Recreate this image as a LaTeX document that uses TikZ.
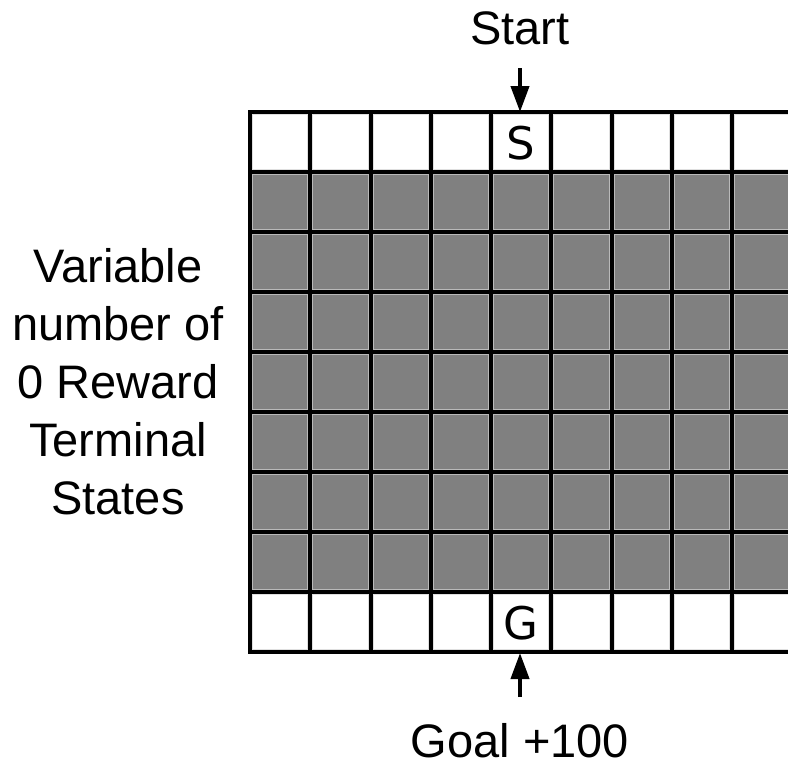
\documentclass[tikz,border=0pt]{standalone}
\usepackage{fontspec}
\setmainfont{Liberation Sans}
\newfontfamily\cellfont{DejaVu Sans}
\usetikzlibrary{arrows.meta}
\tikzset{
  label text/.style={
    font=\fontsize{47}{58}\selectfont,
    inner sep=0pt
  },
  cell letter/.style={
    font=\cellfont\fontsize{45}{45}\selectfont,
    inner sep=0pt
  },
  open cell/.style={
    fill=white,
    draw=gray!25,
    line width=1pt
  },
  blocked cell/.style={
    fill=gray,
    draw=gray!55,
    line width=1pt
  },
  grid line/.style={
    black,
    line width=4pt
  },
  pointer/.style={
    -{Triangle[length=26pt, width=18pt]},
    line width=4pt
  }
}

\begin{document}
\begin{tikzpicture}[x=1pt, y=-1pt]

  \useasboundingbox (0,0) rectangle (788,766);

  %% ---- cells (the grid runs past the right edge) ----
  \begin{scope}
    \clip (0,0) rectangle (788,766);
    \foreach \col in {0,...,8} {
      \foreach \row in {0,...,8} {
        \pgfmathsetmacro{\xl}{250+60.25*\col}
        \pgfmathsetmacro{\yt}{112+60*\row}
        \ifnum\row=0
          \path[open cell] (\xl+2.5,\yt+2.5) rectangle (\xl+57.75,\yt+57.5);
        \else\ifnum\row=8
          \path[open cell] (\xl+2.5,\yt+2.5) rectangle (\xl+57.75,\yt+57.5);
        \else
          \path[blocked cell] (\xl+2.5,\yt+2.5) rectangle (\xl+57.75,\yt+57.5);
        \fi\fi
      }
    }
    %% ---- black grid lines ----
    \foreach \j in {0,...,9}
      \draw[grid line] (248,112+60*\j) -- (792,112+60*\j);
    \foreach \i in {0,...,9}
      \draw[grid line] (250+60.25*\i,110) -- (250+60.25*\i,654);
  \end{scope}

  %% ---- start and goal cells ----
  \node[cell letter] (sCell) at (521,143) {S};
  \node[cell letter] (gCell) at (521,623) {G};

  %% ---- labels ----
  \node[label text, anchor=base] (start) at (520,44) {Start};
  \node[label text, anchor=base] (goal) at (520,757) {Goal +100};
  \node[label text, align=center] (side) at (118,382)
      {Variable\\number of\\0 Reward\\Terminal\\States};

  %% ---- arrows ----
  \coordinate (startTail) at (520,68);
  \coordinate (sTop) at (520,112);
  \coordinate (goalTail) at (520,697);
  \coordinate (gBottom) at (520,653);
  \draw[pointer] (startTail) -- (sTop);
  \draw[pointer] (goalTail) -- (gBottom);

\end{tikzpicture}
\end{document}
